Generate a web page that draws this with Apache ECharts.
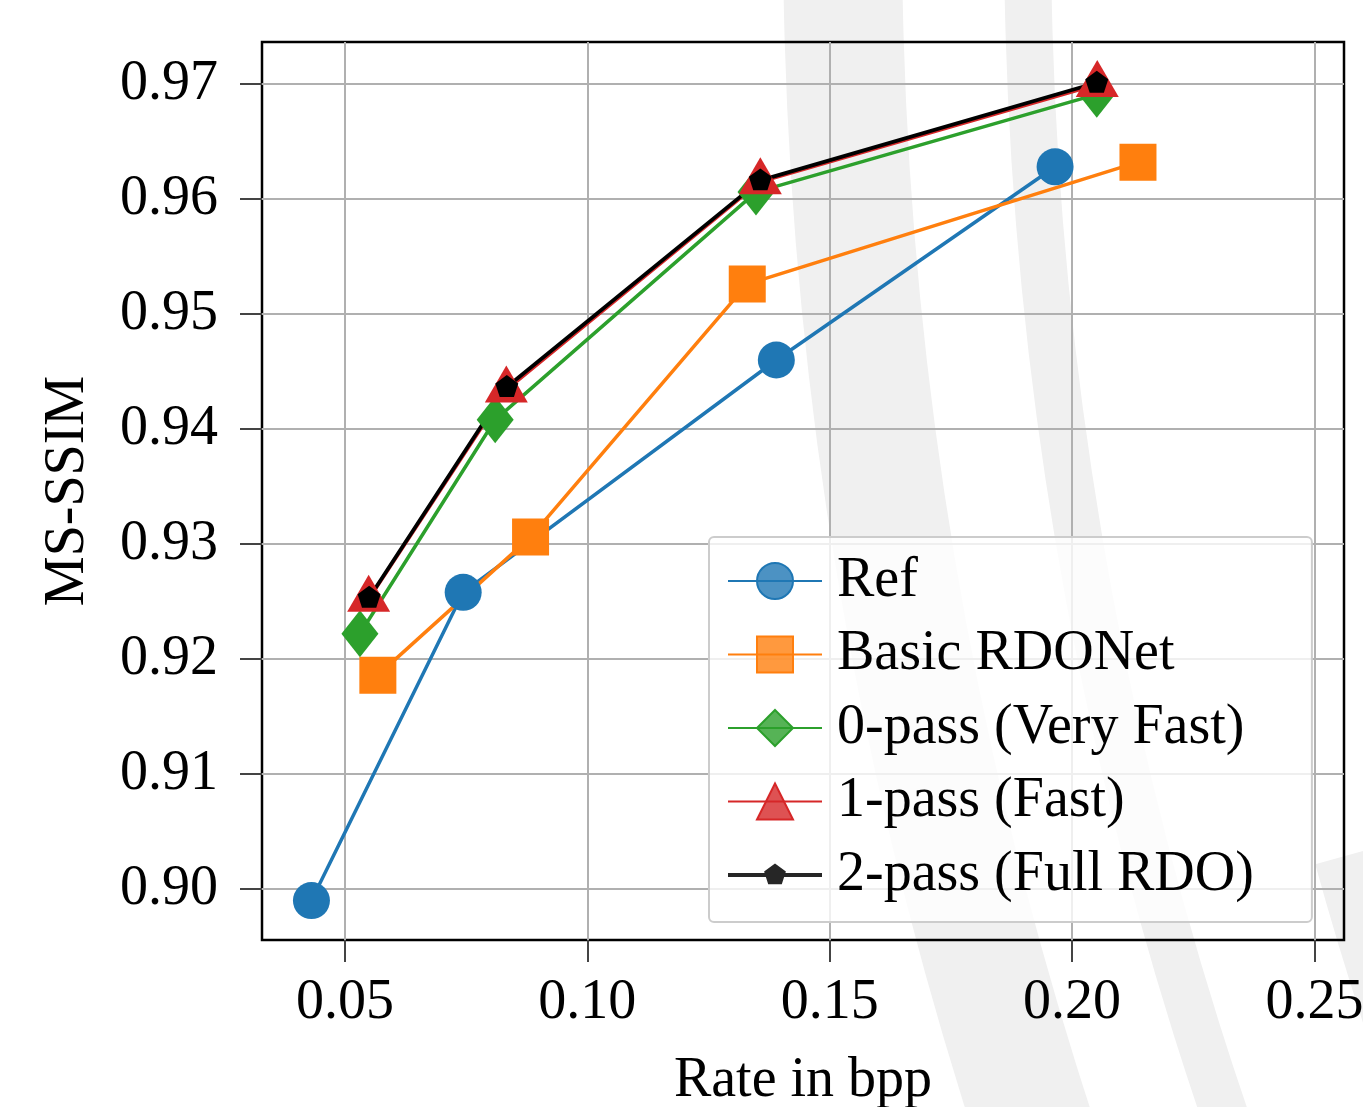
<!DOCTYPE html>
<html>
<head>
<meta charset="utf-8">
<script src="https://cdn.jsdelivr.net/npm/echarts@6/dist/echarts.min.js"></script>
<style>
html,body{margin:0;padding:0;background:#fff;}
#chart{width:1363px;height:1107px;}
</style>
</head>
<body>
<div id="chart"></div>
<script>
const xTicks = [0.05, 0.10, 0.15, 0.20, 0.25];
const yTicks = [0.90, 0.91, 0.92, 0.93, 0.94, 0.95, 0.96, 0.97];
const seriesNames = ['Ref', 'Basic RDONet', '0-pass (Very Fast)', '1-pass (Fast)', '2-pass (Full RDO)'];

const refRate   = [0.0431, 0.0744, 0.1390, 0.1965];
const refSSIM   = [0.8990, 0.9258, 0.9460, 0.9628];
const basicRate = [0.0568, 0.0883, 0.1330, 0.2136];
const basicSSIM = [0.9186, 0.9306, 0.9526, 0.9632];
const pass0Rate = [0.0531, 0.0810, 0.1348, 0.2051];
const pass0SSIM = [0.9222, 0.9408, 0.9606, 0.9691];
const pass1Rate = [0.0549, 0.0833, 0.1357, 0.2052];
const pass1SSIM = [0.92520, 0.94340, 0.96150, 0.96995];
const pass2Rate = [0.0550, 0.0834, 0.1357, 0.2051];
const pass2SSIM = [0.92533, 0.94365, 0.96162, 0.97011];

const FONT = 'Liberation Serif';
const pentagon = 'path://M0,-100L95.1,-30.9L58.8,80.9L-58.8,80.9L-95.1,-30.9Z';
const pentagonLegend = 'path://M0,0L0.01,0L0,0.01Z M94,45L93.99,45L94,44.99Z M0,20.5H94V24.5H0Z M47,11L57.9,18.9L53.8,31.8L40.2,31.8L36.1,18.9Z';

function pairs(xs, ys) { return xs.map((x, i) => [x, ys[i]]); }

const chart = echarts.init(document.getElementById('chart'), null, {renderer: 'canvas'});

function mkSeries(name, xs, ys, color, symbol, size, width, extra) {
  return Object.assign({
    name: name, type: 'line', data: pairs(xs, ys),
    symbol: symbol, symbolSize: size, symbolKeepAspect: true,
    showAllSymbol: true,
    itemStyle: {color: color, opacity: 1},
    lineStyle: {color: color, width: width},
    emphasis: {disabled: true},
    animation: false
  }, extra || {});
}

const option = {
  backgroundColor: '#ffffff',
  animation: false,
  graphic: {
    elements: [
      {type: 'sector', z: -10, silent: true,
       shape: {cx: 4711, cy: -74, r0: 3809, r: 3928, startAngle: 2.7, endAngle: 3.25},
       style: {fill: '#f0f0f0'}},
      {type: 'sector', z: -10, silent: true,
       shape: {cx: 4711, cy: -74, r0: 3660, r: 3707, startAngle: 2.7, endAngle: 3.25},
       style: {fill: '#f0f0f0'}},
      {type: 'sector', z: -10, silent: true,
       shape: {cx: 4711, cy: -74, r0: 3465, r: 3523, startAngle: 2.6, endAngle: 2.872},
       style: {fill: '#f0f0f0'}}
    ]
  },
  grid: {
    left: 262, top: 42, right: 19, bottom: 167,
    show: true, borderColor: '#000', borderWidth: 2.5,
    backgroundColor: 'transparent', containLabel: false,
    outerBoundsMode: 'none'
  },
  legend: {
    orient: 'vertical', left: 709, top: 537,
    padding: [16, 58, 19, 18],
    itemWidth: 94, itemHeight: 45, itemGap: 17.5,
    backgroundColor: 'rgba(255,255,255,0.8)',
    borderColor: '#cccccc', borderWidth: 2, borderRadius: 5,
    selectedMode: false,
    textStyle: {fontSize: 56, fontFamily: FONT, color: '#000', lineHeight: 54, padding: [0, 0, 0, 10]},
    data: [
      {name: seriesNames[0], itemStyle: {color: 'rgba(31,119,180,0.8)', borderColor: '#1f77b4', borderWidth: 2}},
      {name: seriesNames[1], itemStyle: {color: 'rgba(255,127,14,0.8)', borderColor: '#ff7f0e', borderWidth: 2}},
      {name: seriesNames[2], itemStyle: {color: 'rgba(44,160,44,0.8)', borderColor: '#2ca02c', borderWidth: 2}},
      {name: seriesNames[3], itemStyle: {color: 'rgba(214,39,40,0.8)', borderColor: '#d62728', borderWidth: 2}},
      {name: seriesNames[4], icon: pentagonLegend, itemStyle: {color: 'rgba(0,0,0,0.85)', borderWidth: 0}}
    ]
  },
  xAxis: {
    type: 'value', min: 0.0329, max: 0.2561,
    axisLine: {show: false},
    axisTick: {show: true, customValues: xTicks, length: 22, lineStyle: {color: '#444', width: 2}},
    axisLabel: {show: true, customValues: xTicks, formatter: v => v.toFixed(2), margin: 35,
                fontSize: 56, fontFamily: FONT, color: '#000'},
    splitLine: {show: true, lineStyle: {color: '#b0b0b0', width: 2}},
    name: 'Rate in bpp', nameLocation: 'middle', nameGap: 113,
    nameTextStyle: {fontSize: 56, fontFamily: FONT, color: '#000'}
  },
  yAxis: {
    type: 'value', min: 0.89557, max: 0.97365,
    axisLine: {show: false},
    axisTick: {show: true, customValues: yTicks, length: 22, lineStyle: {color: '#444', width: 2}},
    axisLabel: {show: true, customValues: yTicks, formatter: v => v.toFixed(2), margin: 44,
                fontSize: 56, fontFamily: FONT, color: '#000'},
    splitLine: {show: true, lineStyle: {color: '#b0b0b0', width: 2}},
    name: 'MS-SSIM', nameLocation: 'middle', nameGap: 166,
    nameTextStyle: {fontSize: 56, fontFamily: FONT, color: '#000'}
  },
  series: [
    mkSeries(seriesNames[0], refRate, refSSIM, '#1f77b4', 'circle', 37, 3.5),
    mkSeries(seriesNames[1], basicRate, basicSSIM, '#ff7f0e', 'rect', 37, 3.5),
    mkSeries(seriesNames[2], pass0Rate, pass0SSIM, '#2ca02c', 'diamond', [37, 47], 3.5, {symbolKeepAspect: false}),
    mkSeries(seriesNames[3], pass1Rate, pass1SSIM, '#d62728', 'triangle', [43, 37], 3.5, {symbolKeepAspect: false, symbolOffset: [0, -6]}),
    mkSeries(seriesNames[4], pass2Rate, pass2SSIM, '#000000', pentagon, 23, 3.8, {symbolOffset: [0, -1]})
  ]
};
chart.setOption(option);
</script>
</body>
</html>
